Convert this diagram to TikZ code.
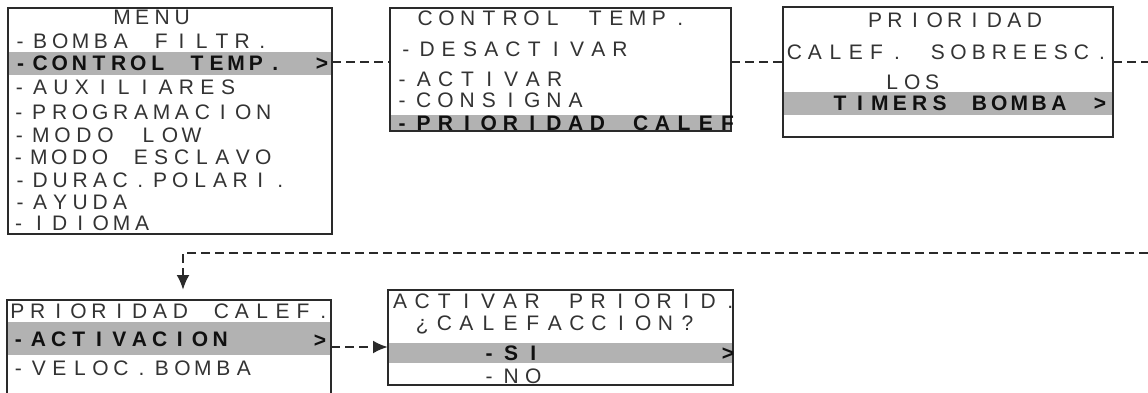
\documentclass[tikz,border=0pt]{standalone}
\usepackage{fontspec}
\setmainfont{Liberation Sans}
\usepackage{xcolor}
\usetikzlibrary{arrows.meta, positioning, calc}
\definecolor{lcdGray}{HTML}{B2B2B2}
\definecolor{lcdInk}{HTML}{333333}
\definecolor{lcdDark}{HTML}{101010}
\definecolor{lcdLine}{HTML}{2A2A2A}

% one character per fixed cell, like the display
\newcommand{\lcdpitch}{20pt}
\def\lcdloop#1{\ifx\relax#1\else\makebox[\lcdpitch]{#1}\expandafter\lcdloop\fi}
\newcommand{\lcd}[2]{\renewcommand{\lcdpitch}{#1pt}\lcdloop#2\relax}

\begin{document}
\begin{tikzpicture}[x=1pt,y=-1pt,
  lcdbox/.style={draw=lcdLine,line width=1.6pt,inner sep=0pt,outer sep=0pt},
  lcdtext/.style={anchor=west,inner sep=0pt,text height=14.5pt,text depth=0pt,text=lcdInk,font=\fontsize{21}{21}\selectfont},
  lcdsel/.style={lcdtext,text=lcdDark,font=\fontsize{21}{21}\selectfont\bfseries},
  link/.style={lcdLine,line width=2.5pt,dash pattern=on 9pt off 5pt},
  tip/.style={-{Latex[length=15pt,width=13pt]}}]
\newcommand{\lcdrow}[6]{%
  \node[#1] (#2) at (#3,#4) {\lcd{#5}{#6}};
}
\useasboundingbox (0,0) rectangle (1148,392);
\clip (0,0) rectangle (1148,392);

% selected lines
\fill[lcdGray] (8,52) rectangle (332,75);
\fill[lcdGray] (390,115) rectangle (731,131);
\fill[lcdGray] (783,92) rectangle (1113,115);
\fill[lcdGray] (7,322) rectangle (331,355);
\fill[lcdGray] (388,343) rectangle (733,363);

% screens
\node[lcdbox,minimum width=324pt,minimum height=226pt] (menu) at (170,121) {};
\node[lcdbox,minimum width=341pt,minimum height=123pt] (ctrl) at (560.5,69.5) {};
\node[lcdbox,minimum width=330pt,minimum height=130pt] (prio) at (948,72) {};
\node[lcdbox,minimum width=324pt,minimum height=112pt] (pcalef) at (169,356) {};
\node[lcdbox,minimum width=345pt,minimum height=95pt] (activ) at (560.5,337.5) {};

% MENU
\lcdrow{lcdtext}{m0}{112}{17}{20}{MENU}
\lcdrow{lcdtext}{m1}{9.7}{41}{20.2}{-BOMBA~FILTR.}
\lcdrow{lcdsel}{m2}{10.6}{63}{19.6}{-CONTROL~TEMP.}
\lcdrow{lcdtext}{m3}{8.6}{87}{20.9}{-AUXILIARES}
\lcdrow{lcdtext}{m4}{8.4}{112}{20.4}{-PROGRAMACION}
\lcdrow{lcdtext}{m5}{8.5}{135}{21.5}{-MODO~LOW}
\lcdrow{lcdtext}{m6}{8}{157}{20.4}{-MODO~ESCLAVO}
\lcdrow{lcdtext}{m7}{10}{180}{20}{-DURAC.POLARI.}
\lcdrow{lcdtext}{m8}{10}{202}{20}{-AYUDA}
\lcdrow{lcdtext}{m9}{8}{223}{20.6}{-IDIOMA}
\node[lcdsel,anchor=center] (g1) at (322,63) {>};

% CONTROL TEMP.
\lcdrow{lcdtext}{c0}{414.4}{18}{21.25}{CONTROL~TEMP.}
\lcdrow{lcdtext}{c1}{395}{49}{21.4}{-DESACTIVAR}
\lcdrow{lcdtext}{c2}{391}{79}{21.8}{-ACTIVAR}
\lcdrow{lcdtext}{c3}{391}{100}{21.7}{-CONSIGNA}
\lcdrow{lcdsel}{c4}{391}{123}{21.7}{-PRIORIDAD~CALEF}

% PRIORIDAD
\lcdrow{lcdtext}{p0}{865}{20}{19.9}{PRIORIDAD}
\lcdrow{lcdtext}{p1}{784}{52}{20.5}{CALEF.~SOBREESC.}
\lcdrow{lcdtext}{p2}{882}{82}{20}{LOS}
\lcdrow{lcdsel}{p3}{830}{103}{19.9}{TIMERS~BOMBA}
\node[lcdsel,anchor=center] (g3) at (1100,103) {>};

% PRIORIDAD CALEF.
\lcdrow{lcdtext}{q0}{7}{311}{20.4}{PRIORIDAD~CALEF.}
\lcdrow{lcdsel}{q1}{8}{339}{20.2}{-ACTIVACION}
\lcdrow{lcdtext}{q2}{8}{368}{20.5}{-VELOC.BOMBA}
\node[lcdsel,anchor=center] (g4) at (320,340) {>};

% ACTIVAR PRIORID.
\lcdrow{lcdtext}{r0}{389}{301}{22}{ACTIVAR~PRIORID.}
\lcdrow{lcdtext}{r1}{411}{323}{22.1}{¿CALEFACCION?}
\lcdrow{lcdsel}{r2}{478}{353}{22}{-SI}
\lcdrow{lcdtext}{r3}{478}{376}{22}{-NO}
\node[lcdsel,anchor=center] (g5) at (728,353) {>};

% links
\coordinate (outA) at (1148,62);
\coordinate (inB) at (1148,253);
\coordinate (bend) at (183,253);
\draw[link] (menu.east |- outA) -- (ctrl.west |- outA);
\draw[link] (ctrl.east |- outA) -- (prio.west |- outA);
\draw[link] (prio.east |- outA) -- (outA);
\draw[link,tip] (inB) -- (bend) -- ($(bend |- pcalef.north)+(0,-10)$);
\draw[link,tip] ($(pcalef.east |- g4)+(0,7)$) -- ($(activ.west |- g4)+(0,7)$);
\end{tikzpicture}
\end{document}
